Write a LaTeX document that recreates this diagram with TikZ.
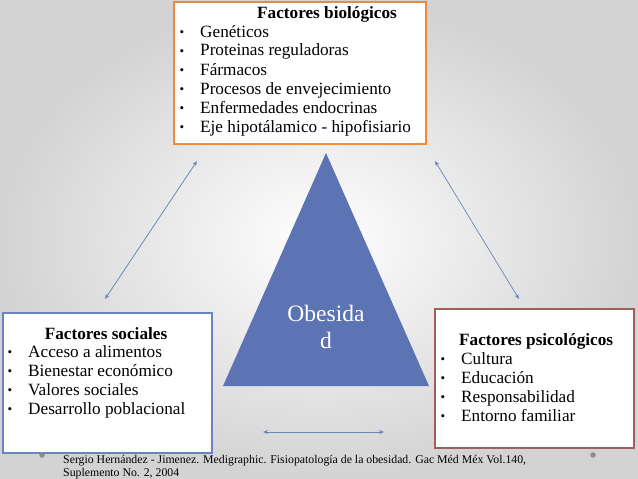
\documentclass[tikz,border=0pt]{standalone}
\usepackage{fontspec}
\setmainfont{Liberation Serif}
\usetikzlibrary{arrows.meta}
\definecolor{bgedge}{HTML}{D3D3D3}
\definecolor{orangeb}{HTML}{EE8A3A}
\definecolor{blueb}{HTML}{6A84C2}
\definecolor{redb}{HTML}{A25C5C}
\definecolor{trifill}{HTML}{5C74B4}
\definecolor{arrowc}{HTML}{6C84BC}
\definecolor{dotc}{HTML}{8C8C8C}
\begin{document}
\begin{tikzpicture}[x=1pt,y=-1pt,
  box/.style={line width=1.6pt,fill=white,anchor=north west,inner sep=0pt},
  boxtext/.style={anchor=base west,inner sep=0pt,font=\fontsize{17.2}{19}\selectfont},
  boxtitle/.style={anchor=base,inner sep=0pt,font=\fontsize{17.2}{19}\selectfont\bfseries},
  bul/.style={anchor=base,inner sep=0pt,font=\fontsize{13}{19}\selectfont},
  link/.style={arrowc,line width=0.7pt,{Stealth[length=5pt,width=4pt]}-{Stealth[length=5pt,width=4pt]}},
  note/.style={anchor=base west,inner sep=0pt,font=\fontsize{11.8}{12.5}\selectfont},
  dot/.style={circle,fill=dotc,inner sep=0pt,minimum size=5.5pt}]
\useasboundingbox (0,0) rectangle (638,479);
\shade[inner color=white,outer color=bgedge] (0,0) rectangle (638,479);
% top box
\node[box,draw=orangeb,minimum width=252pt,minimum height=142pt] (bio) at (173,1) {};
\node[boxtitle] (biot) at (327,18) {Factores biológicos};
\foreach \t [count=\i] in {Genéticos,Proteinas reguladoras,Fármacos,Procesos de envejecimiento,Enfermedades endocrinas,Eje hipotálamico - hipofisiario}{
  \node[bul] (biob\i) at (182,{17+19*\i}) {\textbullet};
  \node[boxtext] (biol\i) at (200,{18+19*\i}) {\t};
}
% left box
\node[box,draw=blueb,minimum width=209pt,minimum height=140pt] (soc) at (2,312) {};
\node[boxtitle] (soct) at (106,339) {Factores sociales};
\foreach \t [count=\i] in {Acceso a alimentos,Bienestar económico,Valores sociales,Desarrollo poblacional}{
  \node[bul] (socb\i) at (10,{337+19*\i}) {\textbullet};
  \node[boxtext] (socl\i) at (28,{338+19*\i}) {\t};
}
% right box
\node[box,draw=redb,minimum width=199pt,minimum height=139pt] (psi) at (434,308) {};
\node[boxtitle,anchor=base west] (psit) at (459,345) {Factores psicológicos};
\foreach \t [count=\i] in {Cultura,Educación,Responsabilidad,Entorno familiar}{
  \node[bul] (psib\i) at (443,{344+19*\i}) {\textbullet};
  \node[boxtext] (psil\i) at (461,{345+19*\i}) {\t};
}
% triangle
\coordinate (apex) at (326,153);
\coordinate (bl) at (223,386);
\coordinate (br) at (429,386);
\fill[trifill] (apex) -- (bl) -- (br) -- cycle;
\node[text=white,align=center,inner sep=0pt,font=\fontsize{23.5}{27}\selectfont] (obe) at (326,327) {Obesida\\d};
% arrows
\coordinate (a1) at (197,161);
\coordinate (a2) at (105,299);
\coordinate (b1) at (435,161);
\coordinate (b2) at (519,299);
\coordinate (c1) at (263,432);
\coordinate (c2) at (384,432);
\draw[link] (a1) -- (a2);
\draw[link] (b1) -- (b2);
\draw[link] (c1) -- (c2);
% footnote
\node[dot] (d1) at (42,455) {};
\node[dot] (d2) at (593,455) {};
\node[note] (ref1) at (63,463) {Sergio Hernández - Jimenez. Medigraphic. Fisiopatología de la obesidad. Gac Méd Méx Vol.140,};
\node[note] (ref2) at (63,476) {Suplemento No. 2, 2004};
\end{tikzpicture}
\end{document}
